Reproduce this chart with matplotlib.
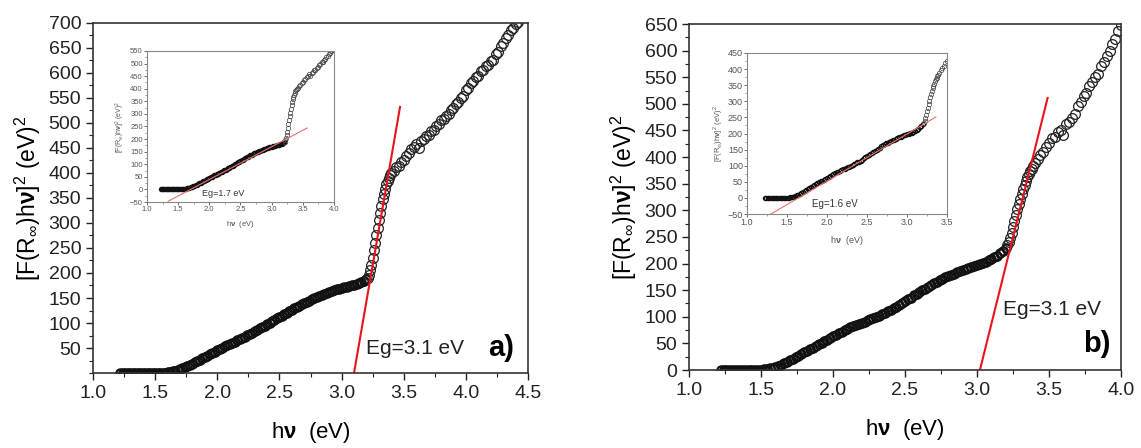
import matplotlib
matplotlib.use("Agg")
import matplotlib.pyplot as plt
from matplotlib.ticker import MultipleLocator

plt.rcParams['font.family'] = ['Liberation Sans', 'DejaVu Sans']
plt.rcParams['mathtext.fontset'] = 'custom'
plt.rcParams['mathtext.rm'] = 'Liberation Sans'
plt.rcParams['mathtext.bf'] = 'Liberation Sans:bold'

# photon energy grid (eV), same for both samples
hv = [1.22, 1.24, 1.26, 1.28, 1.30, 1.32, 1.34, 1.36, 1.38, 1.40,
      1.42, 1.44, 1.46, 1.48, 1.50, 1.52, 1.54, 1.56, 1.58, 1.60,
      1.62, 1.64, 1.66, 1.68, 1.70, 1.72, 1.74, 1.76, 1.78, 1.80,
      1.82, 1.84, 1.86, 1.88, 1.90, 1.92, 1.94, 1.96, 1.98, 2.00,
      2.02, 2.04, 2.06, 2.08, 2.10, 2.12, 2.14, 2.16, 2.18, 2.20,
      2.22, 2.24, 2.26, 2.28, 2.30, 2.32, 2.34, 2.36, 2.38, 2.40,
      2.42, 2.44, 2.46, 2.48, 2.50, 2.52, 2.54, 2.56, 2.58, 2.60,
      2.62, 2.64, 2.66, 2.68, 2.70, 2.72, 2.74, 2.76, 2.78, 2.80,
      2.82, 2.84, 2.86, 2.88, 2.90, 2.92, 2.94, 2.96, 2.98, 3.00,
      3.02, 3.04, 3.06, 3.08, 3.10, 3.12, 3.14, 3.16, 3.18, 3.20,
      3.21, 3.22, 3.23, 3.24, 3.25, 3.26, 3.27, 3.28, 3.29, 3.30,
      3.31, 3.32, 3.33, 3.34, 3.35, 3.36, 3.37, 3.38, 3.39, 3.40,
      3.42, 3.44, 3.46, 3.48, 3.50, 3.52, 3.54, 3.56, 3.58, 3.60,
      3.62, 3.64, 3.66, 3.68, 3.70, 3.72, 3.74, 3.76, 3.78, 3.80,
      3.82, 3.84, 3.86, 3.88, 3.90, 3.92, 3.94, 3.96, 3.98, 4.00,
      4.02, 4.04, 4.06, 4.08, 4.10, 4.12, 4.14, 4.16, 4.18, 4.20,
      4.22, 4.24, 4.26, 4.28, 4.30, 4.32, 4.34, 4.36, 4.38, 4.40,
      4.42]

# [F(R)hv]^2 for sample a)
f_a = [0, 0, 0, 0, 0, 0, 0, 0, 0, 0,
       0, 0, 0, 0, 0, 0, 0, 0.5, 1, 2,
       2.5, 4, 5, 7, 8, 10, 12, 14, 17, 19,
       22, 25, 27, 30, 33, 35, 38, 41, 43, 46,
       49, 51, 54, 56, 59, 61, 63, 66, 68, 71,
       73, 76, 79, 81, 84, 87, 90, 93, 95, 98,
       101, 104, 107, 110, 113, 115, 118, 121, 124, 127,
       130, 132, 135, 138, 140, 143, 145, 148, 150, 152,
       154, 156, 158, 160, 162, 164, 165, 167, 168, 170,
       171, 172, 174, 175, 176, 178, 179, 181, 183, 187,
       190, 196, 205, 216, 230, 245, 260, 275, 290, 305,
       320, 334, 347, 358, 368, 377, 384, 390, 395, 399,
       404, 411, 413, 421, 425, 434, 439, 448, 451, 458,
       450, 463, 467, 474, 476, 484, 486, 494, 497, 505,
       507, 514, 517, 526, 529, 538, 541, 550, 554, 565,
       569, 580, 584, 592, 594, 603, 606, 614, 616, 624,
       626, 637, 642, 654, 659, 670, 675, 686, 689, 697,
       702]

# [F(R)hv]^2 for sample b)
f_b = [0, 0, 0, 0, 0, 0, 0, 0, 0, 0,
       0, 0, 0, 0, 0.5, 1, 2, 3, 4, 6,
       8, 10, 13, 15, 18, 21, 24, 27, 30, 33,
       36, 39, 42, 45, 48, 51, 54, 57, 60, 63,
       66, 69, 72, 75, 77, 80, 82, 85, 87, 89,
       91, 93, 95, 97, 99, 102, 105, 107, 110, 113,
       116, 119, 123, 126, 129, 133, 136, 140, 143, 146,
       150, 153, 156, 160, 163, 166, 169, 171, 174, 177,
       179, 181, 184, 186, 188, 190, 192, 194, 195, 197,
       199, 201, 203, 206, 209, 212, 215, 219, 224, 230,
       234, 240, 248, 258, 269, 280, 291, 302, 312, 322,
       331, 340, 348, 355, 362, 368, 373, 378, 383, 388,
       396, 404, 409, 419, 426, 435, 438, 447, 450, 441,
       463, 465, 473, 481, 496, 504, 514, 521, 533, 541,
       551, 557, 571, 579, 589, 599, 613, 621, 637, 648]
hv_b = hv[:len(f_b)]

# linear fits (tangent lines)
fit_a_x, fit_a_y = [3.10, 3.47], [0, 532]
fit_b_x, fit_b_y = [3.02, 3.49], [0, 511]
ins_a_x, ins_a_y = [1.34, 3.57], [-47, 244]
ins_b_x, ins_b_y = [1.30, 3.36], [-50, 251]

ylab = r'[F(R$_{\infty}$)h$\mathbf{\nu}$]$^{2}$ (eV)$^{2}$'
xlab = r'h$\mathbf{\nu}$  (eV)'

n_dense = 100  # points below 3.2 eV sit very close together

fig = plt.figure(figsize=(11.41, 4.48), dpi=100)


def style_main(ax):
    for s in ax.spines.values():
        s.set_color('#333333')
        s.set_linewidth(1.2)
    ax.xaxis.set_minor_locator(MultipleLocator(0.25))
    ax.yaxis.set_minor_locator(MultipleLocator(25))
    ax.tick_params(which='major', direction='out', length=5, width=1,
                   labelsize=14, colors='#222222')
    ax.tick_params(which='minor', direction='out', length=3, width=0.8,
                   colors='#222222')


def style_inset(ax):
    for s in ax.spines.values():
        s.set_color('#888888')
        s.set_linewidth(0.8)
    ax.xaxis.set_minor_locator(MultipleLocator(0.25))
    ax.yaxis.set_minor_locator(MultipleLocator(25))
    ax.tick_params(which='major', direction='out', length=2, width=0.6,
                   labelsize=5.5, colors='#555555', pad=1)
    ax.tick_params(which='minor', direction='out', length=1.2, width=0.5,
                   colors='#777777')


def scatter_main(ax, x, y):
    ax.plot(x[:n_dense], y[:n_dense], linestyle='none', marker='o',
            markersize=6, markerfacecolor='none', markeredgecolor='#111111',
            markeredgewidth=1.6)
    ax.plot(x[n_dense:], y[n_dense:], linestyle='none', marker='o',
            markersize=7, markerfacecolor='none', markeredgecolor='#222222',
            markeredgewidth=0.9)


def scatter_inset(ax, x, y):
    ax.plot(x[:n_dense], y[:n_dense], linestyle='none', marker='o',
            markersize=3, markerfacecolor='none', markeredgecolor='#111111',
            markeredgewidth=0.9)
    ax.plot(x[n_dense:], y[n_dense:], linestyle='none', marker='o',
            markersize=3.2, markerfacecolor='none', markeredgecolor='#444444',
            markeredgewidth=0.5)


# ---- a) ----
ax1 = fig.add_axes([0.0815, 0.1674, 0.3813, 0.7813])
scatter_main(ax1, hv, f_a)
ax1.plot(fit_a_x, fit_a_y, color='#e8141c', lw=1.5)
ax1.set_xlim(1.0, 4.5)
ax1.set_ylim(0, 700)
ax1.set_yticks(range(50, 701, 50))
ax1.set_xticks([1.0, 1.5, 2.0, 2.5, 3.0, 3.5, 4.0, 4.5])
style_main(ax1)
ax1.set_xlabel(xlab, fontsize=16, labelpad=13)
ax1.set_ylabel(ylab, fontsize=16.5, labelpad=4)
ax1.text(3.2, 50, 'Eg=3.1 eV', fontsize=15, va='center', color='#222222')
ax1.text(4.18, 50, 'a)', fontsize=21, fontweight='bold', va='center')

in1 = fig.add_axes([0.1288, 0.5491, 0.1639, 0.3371])
scatter_inset(in1, hv, f_a)
in1.plot(ins_a_x, ins_a_y, color='#f07070', lw=0.8)
in1.set_xlim(1.0, 4.0)
in1.set_ylim(-50, 550)
in1.set_yticks(range(-50, 551, 50))
in1.set_xticks([1.0, 1.5, 2.0, 2.5, 3.0, 3.5, 4.0])
style_inset(in1)
in1.set_xlabel(xlab, fontsize=5.5, color='#555555', labelpad=4)
in1.set_ylabel(ylab, fontsize=5, color='#555555', labelpad=2)
in1.text(1.88, -18, 'Eg=1.7 eV', fontsize=6.5, va='center', color='#333333')

# ---- b) ----
ax2 = fig.add_axes([0.6039, 0.1741, 0.3786, 0.7723])
scatter_main(ax2, hv_b, f_b)
ax2.plot(fit_b_x, fit_b_y, color='#e8141c', lw=1.5)
ax2.set_xlim(1.0, 4.0)
ax2.set_ylim(0, 650)
ax2.set_yticks(range(0, 651, 50))
ax2.set_xticks([1.0, 1.5, 2.0, 2.5, 3.0, 3.5, 4.0])
style_main(ax2)
ax2.set_xlabel(xlab, fontsize=16, labelpad=13)
ax2.set_ylabel(ylab, fontsize=16.5, labelpad=4)
ax2.text(3.18, 114, 'Eg=3.1 eV', fontsize=15, va='center', color='#222222')
ax2.text(3.74, 49, 'b)', fontsize=21, fontweight='bold', va='center')

in2 = fig.add_axes([0.6547, 0.5223, 0.1753, 0.3594])
scatter_inset(in2, hv_b, f_b)
in2.plot(ins_b_x, ins_b_y, color='#f07070', lw=0.8)
in2.set_xlim(1.0, 3.5)
in2.set_ylim(-50, 450)
in2.set_yticks(range(-50, 451, 50))
in2.set_xticks([1.0, 1.5, 2.0, 2.5, 3.0, 3.5])
style_inset(in2)
in2.tick_params(which='major', labelsize=6.5)
in2.set_xlabel(xlab, fontsize=6.5, color='#555555', labelpad=5)
in2.set_ylabel(ylab, fontsize=5.5, color='#555555', labelpad=2)
in2.text(1.81, -19, 'Eg=1.6 eV', fontsize=7, va='center', color='#333333')

fig.savefig('out.png', dpi=100)
